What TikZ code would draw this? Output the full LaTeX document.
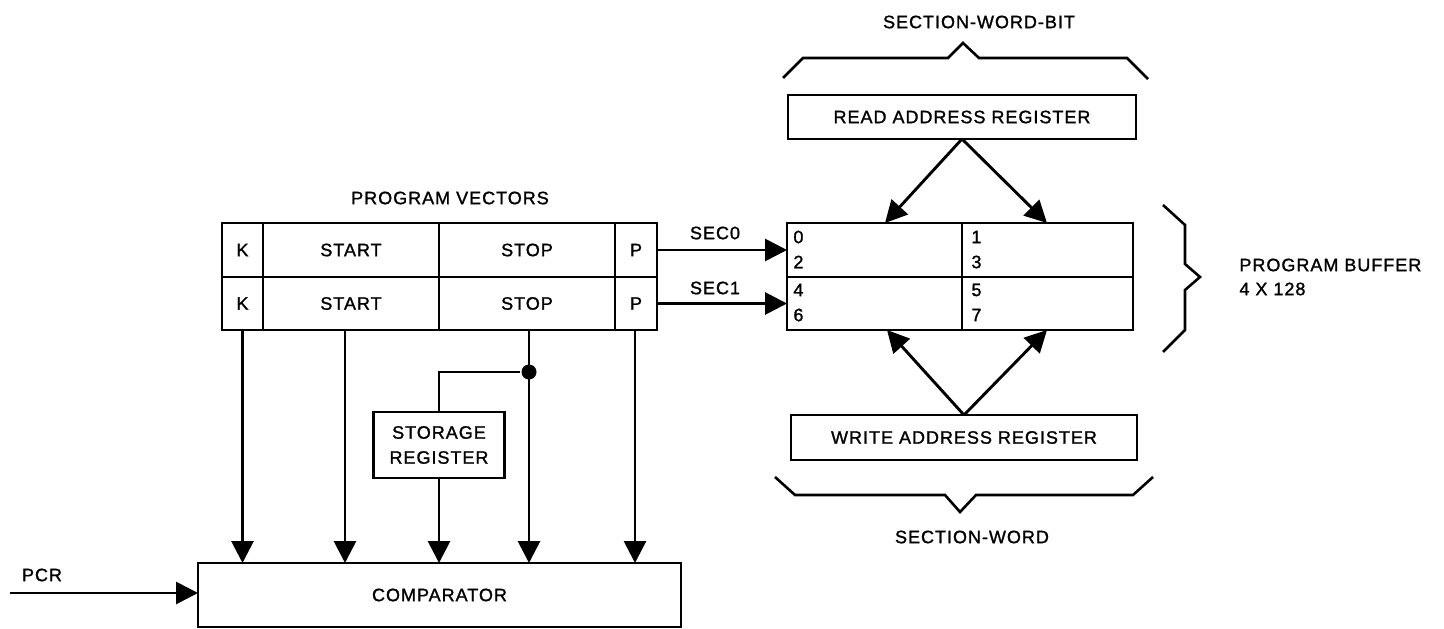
\documentclass[tikz,border=0pt]{standalone}
\usepackage{fontspec}
\setmainfont{Liberation Sans}[LetterSpace=5.5, FakeBold=1.3]
\usetikzlibrary{arrows.meta}
\begin{document}
\begin{tikzpicture}[x=1pt,y=-1pt,line width=2.9pt,
  lbl/.style={font=\fontsize{18}{25}\selectfont, inner sep=0pt},
  cell/.style={draw, inner sep=0pt, outer sep=0pt, font=\fontsize{18}{25}\selectfont},
  box/.style={draw, inner sep=0pt, outer sep=0pt, align=center, font=\fontsize{18}{25}\selectfont},
  arr/.style={-{Triangle[length=22pt,width=22pt]}},
  brace/.style={line width=2.6pt, line join=miter},
  dot/.style={circle, fill, inner sep=0pt, minimum size=15pt}]
\useasboundingbox (0,0) rectangle (1444,629);
% program vectors table
\node[lbl] (pvt) at (450,198) {PROGRAM VECTORS};
\node[cell, minimum width=41pt, minimum height=54pt] (k1) at (242.5,250) {K};
\node[cell, minimum width=176pt, minimum height=54pt] (start1) at (351,250) {START};
\node[cell, minimum width=176pt, minimum height=54pt] (stop1) at (527,250) {STOP};
\node[cell, minimum width=42pt, minimum height=54pt] (p1) at (636,250) {P};
\node[cell, minimum width=41pt, minimum height=53pt] (k2) at (242.5,303.5) {K};
\node[cell, minimum width=176pt, minimum height=53pt] (start2) at (351,303.5) {START};
\node[cell, minimum width=176pt, minimum height=53pt] (stop2) at (527,303.5) {STOP};
\node[cell, minimum width=42pt, minimum height=53pt] (p2) at (636,303.5) {P};
% program buffer
\node[cell, minimum width=175pt, minimum height=54pt] (b02) at (874.5,250) {};
\node[cell, minimum width=171pt, minimum height=54pt] (b13) at (1047.5,250) {};
\node[cell, minimum width=175pt, minimum height=53pt] (b46) at (874.5,303.5) {};
\node[cell, minimum width=171pt, minimum height=53pt] (b57) at (1047.5,303.5) {};
\node[lbl, anchor=west] (n0) at (792,237) {0};
\node[lbl, anchor=west] (n2) at (792,262) {2};
\node[lbl, anchor=west] (n4) at (792,290) {4};
\node[lbl, anchor=west] (n6) at (792,315) {6};
\node[lbl, anchor=west] (n1) at (970,237) {1};
\node[lbl, anchor=west] (n3) at (970,262) {3};
\node[lbl, anchor=west] (n5) at (970,290) {5};
\node[lbl, anchor=west] (n7) at (970,315) {7};
% SEC connectors
\draw[arr] (p1.east) -- (p1.east -| b02.west);
\draw[arr] (p2.east) -- (p2.east -| b46.west);
\node[lbl] (sec0) at (715,233) {SEC0};
\node[lbl] (sec1) at (715,288) {SEC1};
% address registers
\node[box, minimum width=348pt, minimum height=44pt] (rar) at (962,117) {READ ADDRESS REGISTER};
\node[box, minimum width=346pt, minimum height=45pt] (war) at (964,437.5) {WRITE ADDRESS REGISTER};
\coordinate (rt1) at (885,223);
\coordinate (rt2) at (1047,223);
\coordinate (wt1) at (887,330);
\coordinate (wt2) at (1047,330);
\draw[arr] (rar.south) -- (rt1);
\draw[arr] (rar.south) -- (rt2);
\draw[arr] (war.north) -- (wt1);
\draw[arr] (war.north) -- (wt2);
% braces
\draw[brace] (783,78) -- (803,58) -- (948,58) -- (963,43) -- (979,58) -- (1127,58) -- (1148,79);
\draw[brace] (775,477) -- (795,495) -- (945,495) -- (960,512) -- (976,495) -- (1133,495) -- (1153,477);
\draw[brace] (1163,205) -- (1185,225) -- (1185,264) -- (1200,277) -- (1185,290) -- (1185,330) -- (1163,352);
\node[lbl] (swb) at (979,22) {SECTION-WORD-BIT};
\node[lbl] (sw) at (972,537) {SECTION-WORD};
\node[lbl, anchor=west] (pb) at (1238,265) {PROGRAM BUFFER};
\node[lbl, anchor=west] (pb2) at (1238,289) {4 X 128};
% comparator
\node[box, minimum width=483pt, minimum height=64pt] (comp) at (439.5,595) {COMPARATOR};
\node[box, minimum width=131pt, minimum height=66pt] (sr) at (439,445) {STORAGE\\REGISTER};
\node[dot] (j) at (529,372) {};
\draw[arr] (k2.south) -- (k2.south |- comp.north);
\draw[arr] (start2.south -| 345,0) -- (345,0 |- comp.north);
\draw[arr] (j |- stop2.south) -- (j |- comp.north);
\draw[arr] (p2.south -| 635,0) -- (635,0 |- comp.north);
\draw (sr.north) |- (j);
\draw[arr] (sr.south) -- (sr.south |- comp.north);
\coordinate (pcrs) at (10,593);
\draw[arr] (pcrs) -- (pcrs -| comp.west);
\node[lbl] (pcr) at (42,575) {PCR};
\end{tikzpicture}
\end{document}
